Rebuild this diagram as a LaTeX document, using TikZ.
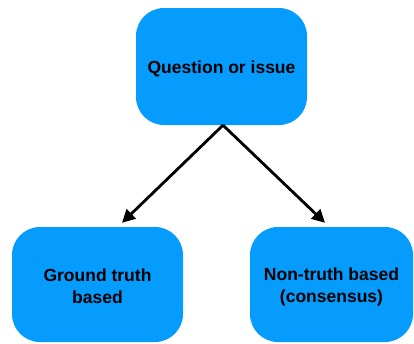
\documentclass[tikz,border=0pt]{standalone}
\usepackage{fontspec}
\setmainfont{Liberation Sans}
\usetikzlibrary{arrows.meta}
\definecolor{boxblue}{HTML}{069CFE}
\begin{document}
\begin{tikzpicture}[x=1pt,y=-1pt,
  box/.style={draw=none, fill=boxblue, rounded corners=28pt, inner sep=0pt,
    align=center, font=\fontsize{17.5}{22}\selectfont\bfseries, text=black},
  label/.style={align=center, font=\fontsize{17.5}{22}\selectfont\bfseries, text=black, inner sep=0pt},
  link/.style={line width=2.8pt, -{Triangle[length=13pt,width=13pt]}}]
  \useasboundingbox (0,0) rectangle (414,343);
  % boxes
  \node[box, minimum width=171pt, minimum height=117pt] (q) at (221.5,66.5) {};
  \node[box, minimum width=171pt, minimum height=115pt] (gt) at (97.5,284.5) {};
  \node[box, minimum width=163pt, minimum height=115pt] (nt) at (331.5,284.5) {};
  % texts, set slightly below the box centres
  \node[label] (qt) at ([yshift=-2pt]q.center) {Question or issue};
  \node[label] (gtt) at ([yshift=-2pt]gt.center) {Ground truth\\based};
  \node[label] (ntt) at ([yshift=-2pt]nt.center) {Non-truth based\\(consensus)};
  % connectors
  \draw[link] ([xshift=1.5pt]q.south) -- ([xshift=24.5pt,yshift=4pt]gt.north);
  \draw[link] ([xshift=1.5pt]q.south) -- ([xshift=-6.5pt,yshift=4pt]nt.north);
\end{tikzpicture}
\end{document}
